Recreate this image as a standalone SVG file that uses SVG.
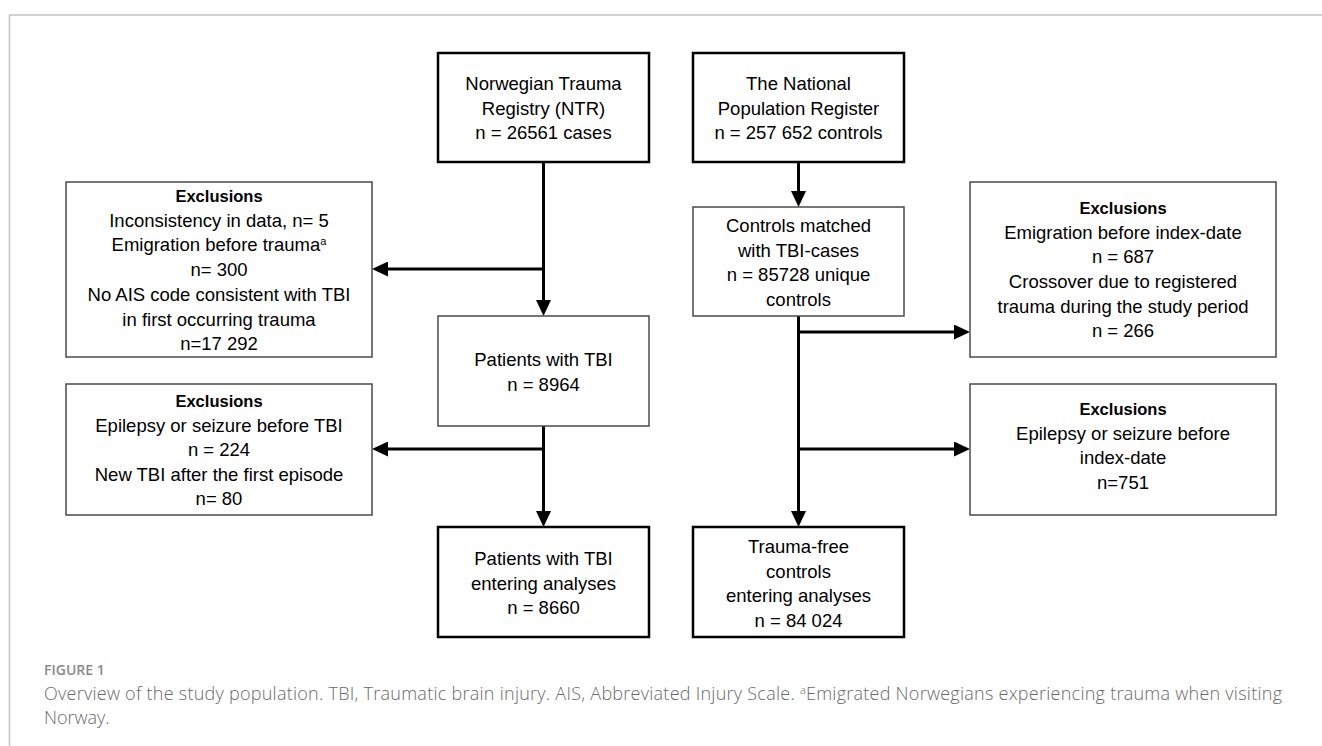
<svg xmlns="http://www.w3.org/2000/svg" width="1322" height="746" viewBox="0 0 1322 746">
<style>
  .bg { fill: #ffffff; }
  .frame { fill: none; stroke: #c4c4c4; stroke-width: 1.5; }
  .thick { fill: #ffffff; stroke: #000000; stroke-width: 2.5; }
  .thin { fill: #ffffff; stroke: #4a4a4a; stroke-width: 1.5; }
  .t { font-family: "Liberation Sans", Arial, sans-serif; font-size: 18.5px; fill: #000000; text-anchor: middle; }
  .b { font-weight: bold; font-size: 16.5px; }
  .conn { fill: none; stroke: #000000; stroke-width: 3; }
  .figlabel { font-family: "Open Sans", "Liberation Sans", sans-serif; font-size: 14px; font-weight: 600; fill: #8a8a8a; }
  .caption { font-family: "Open Sans", "Liberation Sans", sans-serif; font-size: 18px; font-weight: 300; fill: #6a6a6a; }
</style>
<defs>
  <marker id="arrow" markerUnits="userSpaceOnUse" markerWidth="16" markerHeight="15" refX="2" refY="7.5" orient="auto">
    <path d="M0,0 L16,7.5 L0,15 Z" fill="#000000"/>
  </marker>
</defs>
<rect class="bg" x="0" y="0" width="1322" height="746"/>
<path class="frame" d="M9.5,746 L9.5,15 L1322,15"/>

<g id="connectors">
  <line class="conn" x1="543.5" y1="162" x2="543.5" y2="302" marker-end="url(#arrow)"/>
  <line class="conn" x1="545" y1="269" x2="386" y2="269" marker-end="url(#arrow)"/>
  <line class="conn" x1="543.5" y1="426" x2="543.5" y2="513" marker-end="url(#arrow)"/>
  <line class="conn" x1="545" y1="449" x2="386" y2="449" marker-end="url(#arrow)"/>
  <line class="conn" x1="798.5" y1="162" x2="798.5" y2="193" marker-end="url(#arrow)"/>
  <line class="conn" x1="798.5" y1="316" x2="798.5" y2="513" marker-end="url(#arrow)"/>
  <line class="conn" x1="797" y1="332" x2="956" y2="332" marker-end="url(#arrow)"/>
  <line class="conn" x1="797" y1="449" x2="956" y2="449" marker-end="url(#arrow)"/>
</g>

<g id="ntr">
  <rect class="thick" x="438" y="53" width="211" height="109"/>
  <text class="t" x="543.5" y="90">Norwegian Trauma</text>
  <text class="t" x="543.5" y="114.5">Registry (NTR)</text>
  <text class="t" x="543.5" y="139">n = 26561 cases</text>
</g>

<g id="npr">
  <rect class="thick" x="693" y="53" width="211" height="109"/>
  <text class="t" x="798.5" y="90">The National</text>
  <text class="t" x="798.5" y="114.5">Population Register</text>
  <text class="t" x="798.5" y="139">n = 257 652 controls</text>
</g>

<g id="excl-left-1">
  <rect class="thin" x="66" y="182" width="306" height="175"/>
  <text class="t b" x="219" y="202">Exclusions</text>
  <text class="t" x="219" y="226.7">Inconsistency in data, n= 5</text>
  <text class="t" x="219" y="251.4">Emigration before trauma<tspan font-size="11" baseline-shift="6">a</tspan></text>
  <text class="t" x="219" y="276">n= 300</text>
  <text class="t" x="219" y="300.8">No AIS code consistent with TBI</text>
  <text class="t" x="219" y="325.5">in first occurring trauma</text>
  <text class="t" x="219" y="350.2">n=17 292</text>
</g>

<g id="controls-matched">
  <rect class="thin" x="693" y="207" width="211" height="109"/>
  <text class="t" x="798.5" y="232">Controls matched</text>
  <text class="t" x="798.5" y="256.5">with TBI-cases</text>
  <text class="t" x="798.5" y="281">n = 85728 unique</text>
  <text class="t" x="798.5" y="305.5">controls</text>
</g>

<g id="excl-right-1">
  <rect class="thin" x="970" y="182" width="306" height="175"/>
  <text class="t b" x="1123" y="214">Exclusions</text>
  <text class="t" x="1123" y="239">Emigration before index-date</text>
  <text class="t" x="1123" y="263">n = 687</text>
  <text class="t" x="1123" y="288">Crossover due to registered</text>
  <text class="t" x="1123" y="313">trauma during the study period</text>
  <text class="t" x="1123" y="337">n = 266</text>
</g>

<g id="patients-tbi">
  <rect class="thin" x="438" y="316" width="211" height="110"/>
  <text class="t" x="543.5" y="366">Patients with TBI</text>
  <text class="t" x="543.5" y="390.5">n = 8964</text>
</g>

<g id="excl-left-2">
  <rect class="thin" x="66" y="384" width="306" height="131"/>
  <text class="t b" x="219" y="407">Exclusions</text>
  <text class="t" x="219" y="432">Epilepsy or seizure before TBI</text>
  <text class="t" x="219" y="456">n = 224</text>
  <text class="t" x="219" y="481">New TBI after the first episode</text>
  <text class="t" x="219" y="505">n= 80</text>
</g>

<g id="excl-right-2">
  <rect class="thin" x="970" y="384" width="306" height="131"/>
  <text class="t b" x="1123" y="415">Exclusions</text>
  <text class="t" x="1123" y="439.5">Epilepsy or seizure before</text>
  <text class="t" x="1123" y="464">index-date</text>
  <text class="t" x="1123" y="488.5">n=751</text>
</g>

<g id="tbi-final">
  <rect class="thick" x="438" y="527" width="211" height="110"/>
  <text class="t" x="543.5" y="565">Patients with TBI</text>
  <text class="t" x="543.5" y="589.5">entering analyses</text>
  <text class="t" x="543.5" y="614">n = 8660</text>
</g>

<g id="controls-final">
  <rect class="thick" x="693" y="527" width="211" height="110"/>
  <text class="t" x="798.5" y="553">Trauma-free</text>
  <text class="t" x="798.5" y="577.5">controls</text>
  <text class="t" x="798.5" y="602">entering analyses</text>
  <text class="t" x="798.5" y="626.5">n = 84 024</text>
</g>

<g id="caption">
  <text class="figlabel" x="44" y="675">FIGURE 1</text>
  <text class="caption" x="44" y="700" textLength="1238" lengthAdjust="spacing">Overview of the study population. TBI, Traumatic brain injury. AIS, Abbreviated Injury Scale. <tspan font-size="11" baseline-shift="6">a</tspan>Emigrated Norwegians experiencing trauma when visiting</text>
  <text class="caption" x="44" y="723.5">Norway.</text>
</g>
</svg>
